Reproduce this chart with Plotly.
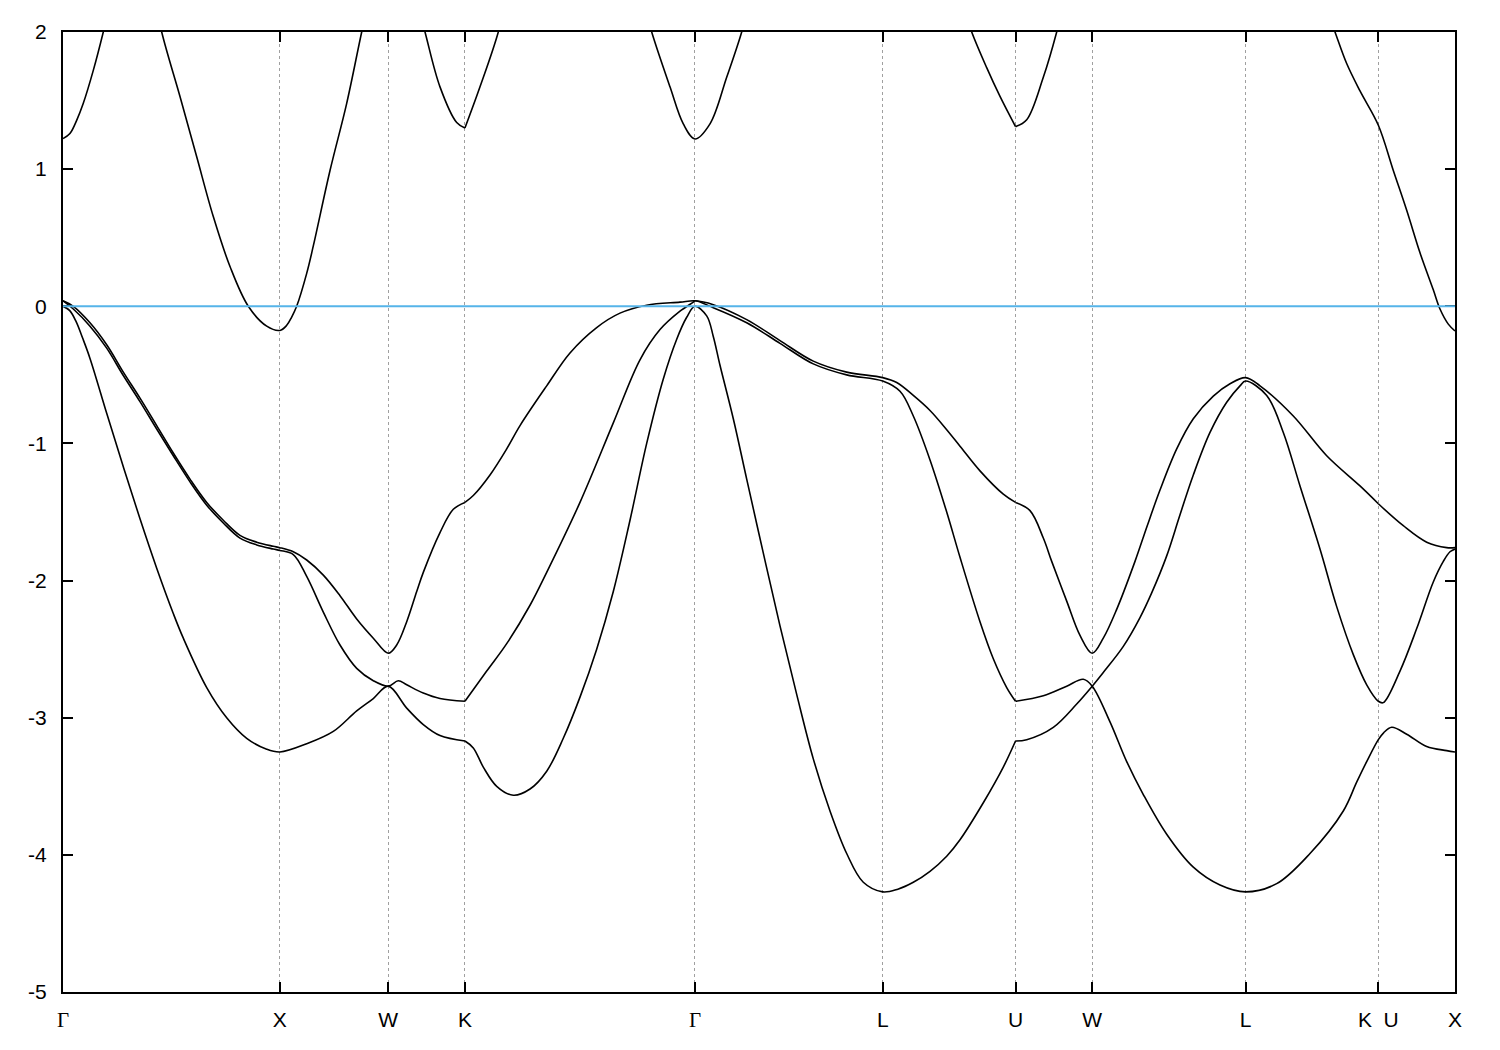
import plotly.graph_objects as go

# ---------------- data ----------------
# High-symmetry points along the path (k-path distance, 2*pi/a units)
kpt_labels = ["Γ", "X", "W", "K", "Γ", "L", "U", "W", "L", "K\u00a0\u00a0U", "X"]
kpt_pos = [0.0, 1.0, 1.5, 1.8536, 2.9142, 3.7802, 4.3926, 4.7462, 5.4533, 6.0657, 6.4192]

y_ticks = [2, 1, 0, -1, -2, -3, -4, -5]
fermi_level = 0.0

# valence band 1 (upper member of the top pair)
band1_k = [0, 0.0475, 0.1245, 0.2015, 0.2781, 0.3551, 0.4321, 0.5086, 0.5857, 0.6627, 0.7392, 0.8162,
           0.8932, 0.9698, 1.0, 1.062, 1.1238, 1.2004, 1.2774, 1.3544, 1.431, 1.5, 1.5388, 1.585, 1.6311,
           1.6615, 1.7385, 1.7999, 1.8536, None,
           1.8536, 1.8921, 1.9691, 2.0461, 2.1075, 2.2306, 2.338, 2.4611, 2.5686, 2.6917, 2.8453, 2.9142,
           2.9988, 3.1529, 3.3064, 3.46, 3.614, 3.7802, 3.8446, 3.9212, 3.9982, 4.0752, 4.1365, 4.2287,
           4.3362, 4.3926, None,
           4.3926, 4.4593, 4.5207, 4.5594, 4.6286, 4.6899, 4.7462, 4.7973, 4.8591, 4.9435, 5.0, 5.0588,
           5.1358, 5.2124, 5.3046, 5.3816, 5.4533, 5.52, 5.6735, 5.8275, 5.9811, 6.0657, None,
           6.0657, 6.1808, 6.2887, 6.3809, 6.4192]
band1_e = [0.04, 0.0, -0.12, -0.28, -0.48, -0.67, -0.87, -1.07, -1.26, -1.43, -1.56, -1.67,
           -1.72, -1.75, -1.76, -1.79, -1.85, -1.96, -2.11, -2.28, -2.42, -2.53, -2.47, -2.30, -2.08,
           -1.94, -1.65, -1.48, -1.43, None,
           -1.43, -1.38, -1.23, -1.04, -0.87, -0.58, -0.34, -0.155, -0.05, 0.008, 0.03, 0.04,
           0.012, -0.097, -0.25, -0.40, -0.48, -0.52, -0.556, -0.65, -0.76, -0.90, -1.02, -1.20,
           -1.37, -1.43, None,
           -1.43, -1.49, -1.69, -1.86, -2.15, -2.40, -2.53, -2.42, -2.21, -1.86, -1.60, -1.34,
           -1.04, -0.82, -0.655, -0.565, -0.52, -0.58, -0.80, -1.09, -1.31, -1.44, None,
           -1.44, -1.60, -1.72, -1.76, -1.76]

# valence band 2 (lower member of the top pair)
band2_k = [0, 0.0475, 0.1245, 0.2015, 0.2781, 0.3551, 0.4321, 0.5086, 0.5857, 0.6627, 0.7392, 0.8162,
           0.8932, 0.9698, 1.0, 1.062, 1.1238, 1.2004, 1.2774, 1.3544, 1.431, 1.5, 1.5462, 1.585, 1.6615,
           1.7385, 1.8536, None,
           1.8536, 1.9539, 2.0461, 2.1536, 2.2306, 2.3841, 2.5377, 2.6608, 2.7531, 2.8453, 2.9066, 2.9142,
           2.9988, 3.1529, 3.3064, 3.46, 3.614, 3.7802, 3.8598, 3.9212, 3.9982, 4.0752, 4.1365, 4.2287,
           4.2901, 4.3519, 4.3926, None,
           4.3926, 4.5207, 4.6286, 4.7051, 4.7462, 4.8282, 4.9053, 4.9818, 5.0897, 5.2124, 5.3355, 5.4533,
           5.5969, 5.7505, 5.9041, 5.9658, 6.012, 6.0657, 6.09, 6.1273, 6.1964, 6.2887, 6.3809, 6.4192]
band2_e = [0.04, -0.02, -0.145, -0.305, -0.505, -0.695, -0.895, -1.09, -1.28, -1.45, -1.58, -1.69,
           -1.74, -1.77, -1.78, -1.81, -1.97, -2.23, -2.47, -2.64, -2.73, -2.77, -2.73, -2.76, -2.82,
           -2.86, -2.88, None,
           -2.88, -2.66, -2.46, -2.18, -1.94, -1.43, -0.85, -0.39, -0.17, -0.036, 0.03, 0.04,
           -0.01, -0.12, -0.27, -0.42, -0.50, -0.545, -0.62, -0.80, -1.12, -1.50, -1.83, -2.30,
           -2.57, -2.78, -2.88, None,
           -2.88, -2.84, -2.77, -2.72, -2.77, -3.03, -3.32, -3.56, -3.85, -4.09, -4.22, -4.27,
           -4.21, -3.99, -3.68, -3.47, -3.32, -3.16, -3.11, -3.07, -3.12, -3.21, -3.24, -3.25]

# valence band 3 (the steep one)
band3_k = [0, 0.03, 0.06, 0.09, 0.1245, 0.2015, 0.2781, 0.3551, 0.4321, 0.5086, 0.5548, 0.6627, 0.7549,
           0.8471, 0.9394, 1.0, 1.1238, 1.2465, 1.3544, 1.431, 1.5, 1.585, 1.6615, 1.7385, 1.8536, None,
           1.8536, 1.8921, 1.9382, 2.0, 2.0766, 2.1536, 2.2306, 2.3071, 2.3841, 2.4611, 2.5377, 2.6147,
           2.6917, 2.7683, 2.8301, 2.8762, 2.9142, 2.9684, 2.9988, 3.0297, 3.0911, 3.1529, 3.2295, 3.3064,
           3.3834, 3.46, 3.537, 3.614, 3.6906, 3.7802, 3.85, 3.9212, 3.9982, 4.0752, 4.1365, 4.244, 4.3362,
           4.3926, None,
           4.3926, 4.4441, 4.5668, 4.6747, 4.7462, 4.7973, 4.8896, 4.9666, 5.0205, 5.0897, 5.1511, 5.2124,
           5.2894, 5.3664, 5.4277, 5.4533, 5.5508, 5.6274, 5.7044, 5.7966, 5.8736, 5.9502, 6.012, 6.0657,
           6.0886, 6.1655, 6.2426, 6.3191, 6.3653, 6.3961, 6.4192]
band3_e = [0.0, -0.03, -0.11, -0.23, -0.38, -0.78, -1.17, -1.55, -1.91, -2.24, -2.42, -2.78, -3.00,
           -3.15, -3.23, -3.25, -3.19, -3.10, -2.95, -2.86, -2.77, -2.93, -3.05, -3.13, -3.17, None,
           -3.17, -3.22, -3.36, -3.50, -3.565, -3.52, -3.39, -3.15, -2.85, -2.50, -2.08, -1.56,
           -1.00, -0.53, -0.24, -0.08, 0.0, -0.07, -0.22, -0.43, -0.82, -1.26, -1.80, -2.33,
           -2.83, -3.30, -3.68, -3.99, -4.20, -4.27, -4.25, -4.20, -4.12, -4.01, -3.89, -3.62, -3.36,
           -3.17, None,
           -3.17, -3.16, -3.07, -2.90, -2.77, -2.67, -2.48, -2.27, -2.09, -1.82, -1.52, -1.23,
           -0.92, -0.70, -0.58, -0.545, -0.65, -0.92, -1.31, -1.77, -2.19, -2.54, -2.76, -2.88,
           -2.89, -2.66, -2.35, -2.01, -1.86, -1.79, -1.77]

# conduction band pieces (values above 2 eV leave the frame)
cb_k = [0, 0.032, 0.063, 0.0936, 0.1397, 0.1858, 0.23, None,
        0.41, 0.4552, 0.5395, 0.6166, 0.6931, 0.7701, 0.8545, 0.9394, 1.0, 1.031, 1.054, 1.0775, 1.1238,
        1.1543, 1.2313, 1.3083, 1.3774, 1.42, None,
        1.62, 1.6694, 1.7385, 1.8155, 1.8536, None,
        1.8536, 1.923, 2.0074, 2.05, None,
        2.67, 2.7148, 2.7992, 2.8605, 2.9142, 2.9836, 3.0606, 3.1298, 3.17, None,
        4.15, 4.1905, 4.2596, 4.321, 4.3926, None,
        4.3926, 4.4441, 4.5207, 4.5824, 4.62, None,
        5.82, 5.8658, 5.9197, 5.9811, 6.0657, 6.1347, 6.1964, 6.2578, 6.3191, 6.35, 6.3883, 6.4192]
cb_e = [1.223, 1.26, 1.356, 1.48, 1.72, 2.0, 2.3, None,
        2.35, 2.0, 1.53, 1.09, 0.654, 0.29, 0.0, -0.145, -0.176, -0.14, -0.08, 0.0, 0.24,
        0.44, 0.99, 1.48, 2.0, 2.3, None,
        2.3, 2.0, 1.60, 1.34, 1.30, None,
        1.30, 1.60, 2.0, 2.3, None,
        2.26, 2.0, 1.60, 1.33, 1.22, 1.33, 1.67, 2.0, 2.25, None,
        2.2, 2.0, 1.74, 1.53, 1.31, None,
        1.31, 1.36, 1.67, 2.0, 2.25, None,
        2.2, 2.0, 1.77, 1.57, 1.32, 0.99, 0.70, 0.39, 0.12, -0.02, -0.13, -0.18]

# ---------------- figure ----------------
FONT = "Liberation Sans, Arial, sans-serif"
fig = go.Figure()
for k, e in [(band1_k, band1_e), (band2_k, band2_e), (band3_k, band3_e), (cb_k, cb_e)]:
    fig.add_trace(go.Scatter(
        x=k, y=e, mode="lines", connectgaps=False, hoverinfo="skip", showlegend=False,
        line=dict(color="black", width=1.6, shape="spline", smoothing=1.0),
    ))

fig.add_hline(y=fermi_level, line_color="#56B4E9", line_width=2)

tick_text = [("<span style='font-family:Liberation Serif'>Γ</span>" if t == "Γ" else t) for t in kpt_labels]

fig.update_layout(
    width=1492, height=1042,
    margin=dict(l=55, r=45, t=20, b=58),
    paper_bgcolor="white", plot_bgcolor="white",
    font=dict(family=FONT, size=21, color="black"),
    showlegend=False,
)
fig.update_xaxes(
    range=[kpt_pos[0], kpt_pos[-1]],
    tickmode="array", tickvals=kpt_pos, ticktext=tick_text,
    ticks="inside", ticklen=10, tickwidth=2, tickcolor="black",
    showline=True, linewidth=2, linecolor="black", mirror="ticks",
    showgrid=True, gridcolor="#a0a0a0", gridwidth=1, griddash="3px,3px",
    zeroline=False, ticklabelstandoff=8,
    tickfont=dict(family=FONT, size=21, color="black"),
)
fig.update_yaxes(
    range=[-5, 2],
    tickmode="array", tickvals=y_ticks, ticktext=[str(v) for v in y_ticks],
    ticks="inside", ticklen=10, tickwidth=2, tickcolor="black",
    showline=True, linewidth=2, linecolor="black", mirror="ticks",
    showgrid=False, zeroline=False, ticklabelstandoff=10,
    tickfont=dict(family=FONT, size=21, color="black"),
)

fig.write_html("out.html")
